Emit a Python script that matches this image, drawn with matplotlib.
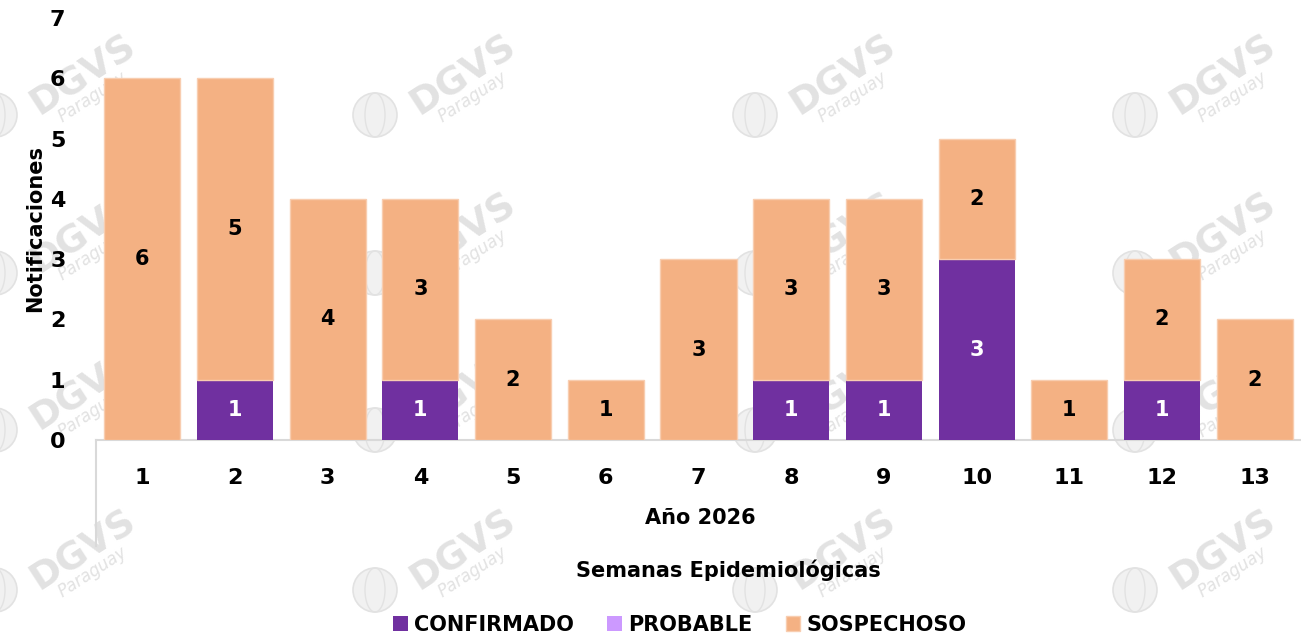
import matplotlib.pyplot as plt
import numpy as np
from matplotlib.patches import Circle, Ellipse

# ---- data ----
semanas = ['1', '2', '3', '4', '5', '6', '7', '8', '9', '10', '11', '12', '13']
confirmado = [0, 1, 0, 1, 0, 0, 0, 1, 1, 3, 0, 1, 0]
probable = [0, 0, 0, 0, 0, 0, 0, 0, 0, 0, 0, 0, 0]
sospechoso = [6, 5, 4, 3, 2, 1, 3, 3, 3, 2, 1, 2, 2]

c_conf, c_prob, c_sosp = '#7030A0', '#CC99FF', '#F4B183'

plt.rcParams['font.family'] = ['DejaVu Sans']
plt.rcParams['font.weight'] = 'bold'

W, H = 1301, 637
fig = plt.figure(figsize=(W / 100, H / 100), dpi=100)
fig.patch.set_facecolor('white')

# faint "DGVS Paraguay" watermarks behind the chart
wm_cols = [83, 463, 843, 1223]
wm_rows = [75, 233, 390, 550]
for cx in wm_cols:
    for cy in wm_rows:
        fx, fy = cx / W, 1 - cy / H
        fig.text(fx, fy, 'DGVS', fontsize=27, color='#e2e2e2', rotation=33,
                 ha='center', va='center', zorder=-2)
        fig.text(fx + 10 / W, fy - 22 / H, 'Paraguay', fontsize=12, color='#e2e2e2',
                 rotation=33, ha='center', va='center', style='italic',
                 fontweight='normal', zorder=-2)
        gx, gy = (cx - 88) / W, 1 - (cy + 40) / H
        fig.patches.append(Ellipse((gx, gy), 44 / W, 44 / H, transform=fig.transFigure,
                                   facecolor='#f1f1f1', edgecolor='#e2e2e2', lw=1.2, zorder=-2))
        fig.patches.append(Ellipse((gx, gy), 20 / W, 44 / H, transform=fig.transFigure,
                                   facecolor='none', edgecolor='#e2e2e2', lw=1, zorder=-2))

ax = fig.add_axes([96 / W, 197 / H, 1205 / W, 422 / H])
ax.patch.set_alpha(0)

x = np.arange(1, len(semanas) + 1)
conf = np.array(confirmado)
prob = np.array(probable)
sosp = np.array(sospechoso)
w = 0.82

b1 = ax.bar(x, conf, w, color=c_conf, label='CONFIRMADO', zorder=3)
b2 = ax.bar(x, prob, w, bottom=conf, color=c_prob, label='PROBABLE', zorder=3)
b3 = ax.bar(x, sosp, w, bottom=conf + prob, color=c_sosp, label='SOSPECHOSO',
            edgecolor='#f8cdb0', linewidth=1, zorder=3)

for xi, c, p, s in zip(x, conf, prob, sosp):
    if c > 0:
        ax.text(xi, c / 2, str(c), ha='center', va='center', color='white',
                fontsize=15, fontweight='bold', zorder=4)
    if s > 0:
        ax.text(xi, c + p + s / 2, str(s), ha='center', va='center', color='black',
                fontsize=15, fontweight='bold', zorder=4)

ax.set_xlim(0.5, len(semanas) + 0.5)
ax.set_ylim(0, 7)
ax.set_xticks(x)
ax.set_xticklabels(semanas)
ax.set_yticks(range(0, 8))
ax.tick_params(axis='both', length=0, labelsize=16)
ax.tick_params(axis='x', pad=20)
ax.tick_params(axis='y', pad=22)
for lbl in ax.get_xticklabels() + ax.get_yticklabels():
    lbl.set_fontweight('bold')

for sp in ['top', 'right', 'left']:
    ax.spines[sp].set_visible(False)
ax.spines['bottom'].set_color('#d9d9d9')
ax.spines['bottom'].set_linewidth(1.5)

# category group box line
ax.plot([0.5, 0.5], [0, -1.75], color='#d9d9d9', lw=1.5, clip_on=False)

ax.set_ylabel('Notificaciones', fontsize=15, fontweight='bold')
ax.yaxis.set_label_coords(-0.042, 0.5)

fig.text(700 / W, 1 - 518 / H, 'Año 2026', ha='center', va='center',
         fontsize=15, fontweight='bold')
fig.text(728 / W, 1 - 570 / H, 'Semanas Epidemiológicas', ha='center', va='center',
         fontsize=15, fontweight='bold')

leg = fig.legend(handles=[b1, b2, b3], loc='center', bbox_to_anchor=(680 / W, 1 - 625 / H),
                 ncol=3, frameon=False, fontsize=15, handlelength=0.7, handleheight=0.7,
                 handletextpad=0.3, columnspacing=1.6, borderaxespad=0)
for t in leg.get_texts():
    t.set_fontweight('bold')

fig.savefig('out.png', dpi=100, facecolor='white')
